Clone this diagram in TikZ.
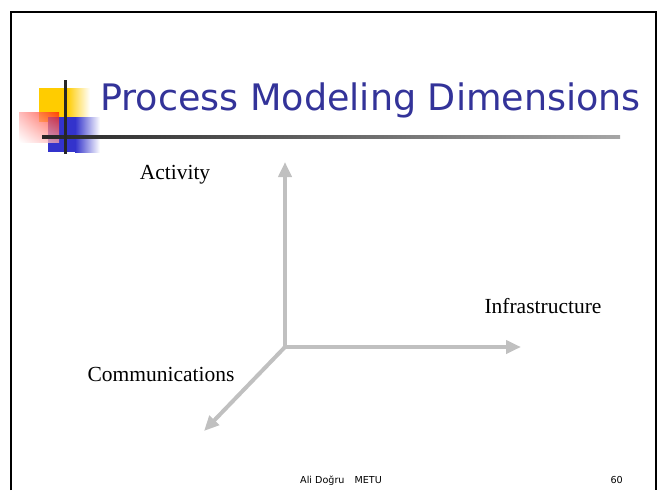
\documentclass[tikz,border=0pt]{standalone}
\usepackage{fontspec}
\setmainfont{Liberation Serif}
\newfontfamily\titlefont{DejaVu Sans}
\usetikzlibrary{arrows.meta,calc,shadings}

\definecolor{titleblue}{RGB}{51,51,153}
\definecolor{logoblue}{RGB}{51,51,204}
\definecolor{logoyellow}{RGB}{255,204,0}
\definecolor{axisgray}{RGB}{192,192,192}

\begin{document}
\begin{tikzpicture}[x=1pt,y=-1pt,
    axis/.style={draw=axisgray,line width=4pt,-{Triangle[length=15pt,width=13pt]}},
    dimlabel/.style={font=\fontsize{21.5}{24}\selectfont,inner sep=0pt,anchor=base}]

\useasboundingbox (0,0) rectangle (666,490);

% draw slide frame
\draw[line width=2.5pt] (11,490) -- (11,12) -- (656,12) -- (656,490);

% draw logo squares
\fill[logoyellow] (39,88) rectangle (67,122);
\shade[left color=logoyellow,right color=white] (67,88) rectangle (90,122);
\fill[logoblue] (48,117) rectangle (75,152);
\shade[left color=logoblue,right color=white] (75,117) rectangle (100,152);
\shade[opacity=0.75,upper right=red!80!orange,upper left=red!35,
    lower right=red!35,lower left=white] (19,112) rectangle (59,142);

% draw logo lines
\shade[left color=black!85,right color=black!35] (42,135.5) rectangle (620,138.5);
\fill[black!85] (63.5,80) rectangle (66.5,154);

% title and footer
\node[anchor=base west,inner sep=0pt,text=titleblue,
    font=\titlefont\fontsize{36.5}{40}\selectfont] (title) at (100,110) {Process Modeling Dimensions};
\node[anchor=base west,inner sep=0pt,font=\titlefont\fontsize{9.6}{12}\selectfont] (author) at (300,483) {Ali Doğru\hspace{10pt}METU};
\node[anchor=base east,inner sep=0pt,font=\titlefont\fontsize{9.6}{12}\selectfont] (page) at (623,483) {60};

% axes
\coordinate (O) at (285,347);
\coordinate (act) at (285,162);
\coordinate (inf) at (521,347);
\coordinate (com) at (204,431);
\draw[axis] (O) -- (act);
\draw[axis] (O) -- (inf);
\draw[axis] (O) -- (com);

% axis labels
\node[dimlabel] (activity) at (175,179) {Activity};
\node[dimlabel] (infra) at (543,313) {Infrastructure};
\node[dimlabel] (comm) at (161,381) {Communications};

\end{tikzpicture}
\end{document}
